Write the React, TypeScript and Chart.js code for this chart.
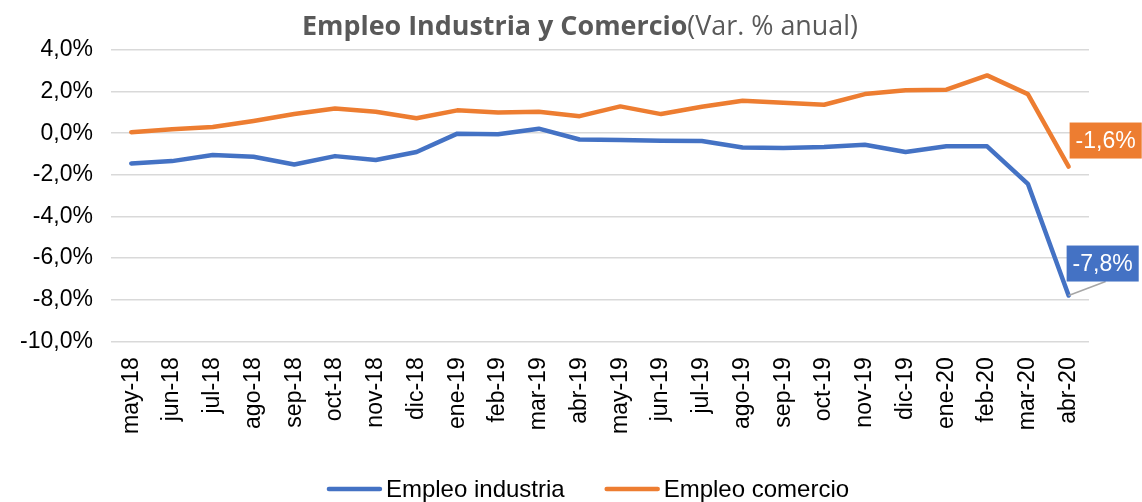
import React, { useEffect, useRef } from "react";
import { Chart, registerables } from "chart.js";

Chart.register(...registerables);

const categories = [
  "may-18", "jun-18", "jul-18", "ago-18", "sep-18", "oct-18", "nov-18", "dic-18",
  "ene-19", "feb-19", "mar-19", "abr-19", "may-19", "jun-19", "jul-19", "ago-19",
  "sep-19", "oct-19", "nov-19", "dic-19", "ene-20", "feb-20", "mar-20", "abr-20",
];

const empleoIndustria = [
  -1.45, -1.34, -1.05, -1.13, -1.5, -1.1, -1.29, -0.9,
  -0.02, -0.05, 0.22, -0.3, -0.33, -0.36, -0.37, -0.69,
  -0.71, -0.66, -0.55, -0.9, -0.63, -0.63, -2.43, -7.8,
];

const empleoComercio = [
  0.05, 0.19, 0.3, 0.59, 0.92, 1.19, 1.03, 0.72,
  1.1, 1.0, 1.03, 0.82, 1.29, 0.92, 1.27, 1.56,
  1.46, 1.37, 1.88, 2.07, 2.09, 2.78, 1.88, -1.6,
];

const seriesNames = ["Empleo industria", "Empleo comercio"];
const seriesColors = ["#4472C4", "#ED7D31"];
const titleBold = "Empleo Industria y Comercio";
const titleNormal = "(Var. % anual)";

const fmt = (v: number) => v.toFixed(1).replace(".", ",") + "%";

const FONT = "'Liberation Sans', Arial, sans-serif";

const overlayPlugin = {
  id: "overlay",
  afterDraw(chart: any) {
    const ctx = chart.ctx as CanvasRenderingContext2D;
    // Title
    ctx.save();
    ctx.fillStyle = "#595959";
    ctx.textBaseline = "alphabetic";
    const fb = "bold 27px 'Open Sans', sans-serif";
    const fn = "27px 'Open Sans', sans-serif";
    ctx.font = fb;
    const wb = ctx.measureText(titleBold).width;
    ctx.font = fn;
    const wn = ctx.measureText(titleNormal).width;
    const total = wb + wn;
    const target = 556;
    const sx = total > target ? target / total : 1;
    const cx = 580;
    ctx.translate(cx - (total * sx) / 2, 35);
    ctx.scale(sx, 1);
    ctx.textAlign = "left";
    ctx.font = fb;
    ctx.fillText(titleBold, 0, 0);
    ctx.font = fn;
    ctx.fillText(titleNormal, wb, 0);
    ctx.restore();

    // Data labels on last points
    chart.data.datasets.forEach((ds: any, i: number) => {
      const meta = chart.getDatasetMeta(i);
      const last = meta.data.length - 1;
      const pt = meta.data[last];
      if (!pt) return;
      const v = ds.data[last] as number;
      const txt = fmt(v);
      ctx.save();
      ctx.font = "23px " + FONT;
      const tw = ctx.measureText(txt).width;
      const bw = tw + 12;
      const bh = 36;
      let bx: number, by: number;
      if (i === 0) {
        bx = pt.x - 2;
        by = pt.y - 50;
        ctx.strokeStyle = "#A6A6A6";
        ctx.lineWidth = 1.5;
        ctx.beginPath();
        ctx.moveTo(pt.x, pt.y);
        ctx.lineTo(pt.x + 37, by + bh);
        ctx.stroke();
      } else {
        bx = pt.x + 1;
        by = pt.y - 44;
      }
      ctx.fillStyle = ds.borderColor;
      ctx.fillRect(bx, by, bw, bh);
      ctx.fillStyle = "#FFFFFF";
      ctx.textAlign = "center";
      ctx.textBaseline = "middle";
      ctx.fillText(txt, bx + bw / 2, by + bh / 2 + 1);
      ctx.restore();
    });

    // Legend
    ctx.save();
    ctx.font = "24px " + FONT;
    const lineLen = 55;
    const gapText = 4;
    const gapItems = 40;
    const widths = chart.data.datasets.map(
      (ds: any) => lineLen + gapText + ctx.measureText(ds.label).width
    );
    const totalW = widths.reduce((a: number, b: number) => a + b, 0) + gapItems * (widths.length - 1);
    let x = 588 - totalW / 2;
    const y = 489;
    chart.data.datasets.forEach((ds: any, i: number) => {
      ctx.strokeStyle = ds.borderColor;
      ctx.lineWidth = 4.5;
      ctx.lineCap = "round";
      ctx.beginPath();
      ctx.moveTo(x + 2, y);
      ctx.lineTo(x + lineLen - 2, y);
      ctx.stroke();
      ctx.fillStyle = "#000000";
      ctx.textAlign = "left";
      ctx.textBaseline = "middle";
      ctx.fillText(ds.label, x + lineLen + gapText, y + 1);
      x += widths[i] + gapItems;
    });
    ctx.restore();
  },
};

export default function App() {
  const ref = useRef<HTMLCanvasElement | null>(null);

  useEffect(() => {
    if (!ref.current) return;
    const chart = new Chart(ref.current, {
      type: "line",
      data: {
        labels: categories,
        datasets: [
          {
            label: seriesNames[0],
            data: empleoIndustria,
            borderColor: seriesColors[0],
            backgroundColor: seriesColors[0],
            borderWidth: 4.5,
            pointRadius: 0,
            tension: 0,
            borderCapStyle: "round",
            borderJoinStyle: "round",
          },
          {
            label: seriesNames[1],
            data: empleoComercio,
            borderColor: seriesColors[1],
            backgroundColor: seriesColors[1],
            borderWidth: 4.5,
            pointRadius: 0,
            tension: 0,
            borderCapStyle: "round",
            borderJoinStyle: "round",
          },
        ],
      },
      options: {
        animation: false,
        responsive: true,
        maintainAspectRatio: false,
        layout: { padding: { top: 50, right: 53, bottom: 60, left: 2 } },
        plugins: {
          legend: { display: false },
          title: { display: false },
          tooltip: { enabled: false },
        },
        scales: {
          x: {
            offset: true,
            grid: { display: false },
            border: { display: false },
            ticks: {
              color: "#000000",
              font: { size: 23, family: FONT },
              maxRotation: 90,
              minRotation: 90,
              autoSkip: false,
              padding: 8,
            },
          },
          y: {
            min: -10,
            max: 4,
            grid: { color: "#D9D9D9", lineWidth: 1.5, drawTicks: false },
            border: { display: false },
            ticks: {
              stepSize: 2,
              color: "#000000",
              font: { size: 23, family: FONT },
              padding: 18,
              callback: (v: any) => fmt(Number(v)),
            },
          },
        },
      },
      plugins: [overlayPlugin],
    });
    return () => chart.destroy();
  }, []);

  return (
    <div style={{ position: "absolute", left: 0, top: 0, width: 1142, height: 502, background: "#fff" }}>
      <canvas ref={ref} />
    </div>
  );
}
